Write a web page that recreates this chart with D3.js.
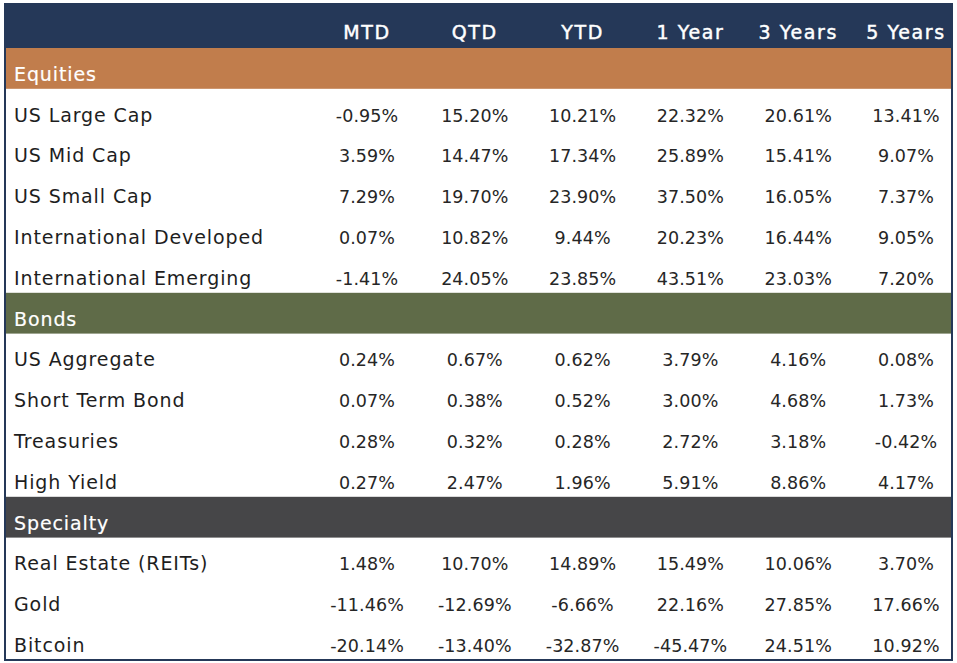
<!DOCTYPE html>
<html lang="en">
<head>
    <meta charset="UTF-8">
    <title>Asset Class Returns</title>
    <script src="https://d3js.org/d3.v7.min.js"></script>
    <style>
        body { margin: 0; background: #fff; }
        text { font-family: "DejaVu Sans", sans-serif; }
        .head { fill: #fff; stroke: #fff; stroke-width: 0.45px; font-size: 19px; letter-spacing: 1.6px; }
        .section { fill: #fff; stroke: #fff; stroke-width: 0.2px; font-size: 19px; letter-spacing: 0.9px; }
        .label { fill: #1e1e1e; font-size: 19px; letter-spacing: 0.9px; }
        .value { fill: #262626; font-size: 17.5px; letter-spacing: 0.1px; }
    </style>
</head>
<body>
    <div id="chart"></div>
    <script>
        const columns = ["MTD", "QTD", "YTD", "1 Year", "3 Years", "5 Years"];
        const sections = ["Equities", "Bonds", "Specialty"];

        const equities = ["US Large Cap", "US Mid Cap", "US Small Cap", "International Developed", "International Emerging"];
        const bonds = ["US Aggregate", "Short Term Bond", "Treasuries", "High Yield"];
        const specialty = ["Real Estate (REITs)", "Gold", "Bitcoin"];

        // one array per column, rows in order: equities, bonds, specialty
        const mtd = [-0.95, 3.59, 7.29, 0.07, -1.41, 0.24, 0.07, 0.28, 0.27, 1.48, -11.46, -20.14];
        const qtd = [15.20, 14.47, 19.70, 10.82, 24.05, 0.67, 0.38, 0.32, 2.47, 10.70, -12.69, -13.40];
        const ytd = [10.21, 17.34, 23.90, 9.44, 23.85, 0.62, 0.52, 0.28, 1.96, 14.89, -6.66, -32.87];
        const oneYear = [22.32, 25.89, 37.50, 20.23, 43.51, 3.79, 3.00, 2.72, 5.91, 15.49, 22.16, -45.47];
        const threeYears = [20.61, 15.41, 16.05, 16.44, 23.03, 4.16, 4.68, 3.18, 8.86, 10.06, 27.85, 24.51];
        const fiveYears = [13.41, 9.07, 7.37, 9.05, 7.20, 0.08, 1.73, -0.42, 4.17, 3.70, 17.66, 10.92];

        const sectionColors = { "Equities": "#c17d4c", "Bonds": "#5f6b48", "Specialty": "#464648" };
        const navy = "#253858";

        const W = 957, H = 663;
        const tTop = 4, headH = 44, tBottom = 660, tLeft = 5, tRight = 952;

        const cols = [mtd, qtd, ytd, oneYear, threeYears, fiveYears];
        const groups = [equities, bonds, specialty];

        // flatten into display rows
        const rows = [];
        let k = 0;
        groups.forEach((g, gi) => {
            rows.push({ type: "section", name: sections[gi] });
            g.forEach(label => {
                const idx = k++;
                rows.push({ type: "data", name: label, vals: cols.map(c => c[idx]) });
            });
        });

        const fmtLocale = d3.formatLocale({ decimal: ".", thousands: ",", grouping: [3], currency: ["$", ""], minus: "-" });
        const fmt = v => fmtLocale.format(".2f")(v) + "%";

        const x = d3.scalePoint().domain(columns).range([367, 906]);
        const y = d3.scaleBand().domain(d3.range(rows.length)).range([tTop + headH, tBottom]);

        const svg = d3.select("#chart").append("svg")
            .attr("width", W)
            .attr("height", H);

        svg.append("rect")
            .attr("x", tLeft).attr("y", tTop)
            .attr("width", tRight - tLeft).attr("height", tBottom - tTop)
            .attr("fill", "#fff");

        // header
        svg.append("rect")
            .attr("x", tLeft).attr("y", tTop)
            .attr("width", tRight - tLeft).attr("height", headH)
            .attr("fill", navy);

        svg.selectAll(".head")
            .data(columns)
            .enter().append("text")
            .attr("class", "head")
            .attr("x", d => x(d))
            .attr("y", tTop + headH - 9)
            .attr("text-anchor", "middle")
            .text(d => d);

        const rowG = svg.selectAll(".row")
            .data(rows)
            .enter().append("g")
            .attr("class", "row")
            .attr("transform", (d, i) => `translate(0,${y(i)})`);

        rowG.filter(d => d.type === "section").append("rect")
            .attr("x", tLeft)
            .attr("width", tRight - tLeft)
            .attr("height", y.bandwidth())
            .attr("fill", d => sectionColors[d.name]);

        rowG.append("text")
            .attr("class", d => d.type === "section" ? "section" : "label")
            .attr("x", 14)
            .attr("y", y.bandwidth() - 8)
            .text(d => d.name);

        rowG.filter(d => d.type === "data").selectAll(".value")
            .data(d => d.vals.map((v, i) => ({ col: columns[i], v })))
            .enter().append("text")
            .attr("class", "value")
            .attr("x", d => x(d.col))
            .attr("y", y.bandwidth() - 8)
            .attr("text-anchor", "middle")
            .text(d => fmt(d.v));

        // outer border
        svg.append("rect")
            .attr("x", tLeft).attr("y", tTop)
            .attr("width", tRight - tLeft).attr("height", tBottom - tTop)
            .attr("fill", "none")
            .attr("stroke", navy)
            .attr("stroke-width", 2);
    </script>
</body>
</html>
